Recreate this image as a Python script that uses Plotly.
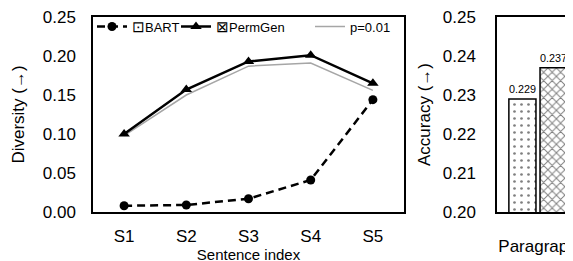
import plotly.graph_objects as go

# ---- data ----
sentences = ["S1", "S2", "S3", "S4", "S5"]
bart_div = [0.008, 0.009, 0.017, 0.041, 0.144]
permgen_div = [0.100, 0.157, 0.193, 0.201, 0.165]
p001_div = [0.098, 0.150, 0.187, 0.191, 0.156]

acc_cats = ["Paragraph", "Sentence"]
bart_acc = [0.229, None]
permgen_acc = [0.237, None]

W, H = 573, 261
OFF = 8  # page body margin offset
FONT = "Liberation Sans, Arial, sans-serif"


def px(page_x):
    return (page_x - OFF) / W


fig = go.Figure()

fig.add_trace(go.Bar(
    x=acc_cats, y=bart_acc, name="BART", showlegend=False,
    marker=dict(color="white", line=dict(color="black", width=1.5),
                pattern=dict(shape=".", fgcolor="black", size=7, solidity=0.12)),
    text=["0.229", ""], textposition="outside",
    textfont=dict(size=13, color="black"),
    xaxis="x2", yaxis="y2", cliponaxis=False))
fig.add_trace(go.Bar(
    x=acc_cats, y=permgen_acc, name="PermGen", showlegend=False,
    marker=dict(color="white", line=dict(color="black", width=1.5),
                pattern=dict(shape="x", fgcolor="black", size=6, solidity=0.3)),
    text=["0.237", ""], textposition="outside",
    textfont=dict(size=13, color="black"),
    xaxis="x2", yaxis="y2", cliponaxis=False))

fig.add_trace(go.Scatter(
    x=sentences, y=p001_div, name="p=0.01", mode="lines",
    line=dict(color="#a6a6a6", width=1.5),
    xaxis="x", yaxis="y", legend="legend3"))
fig.add_trace(go.Scatter(
    x=sentences, y=bart_div, name="<span style='font-size:15px'>⊡</span>BART",
    mode="lines+markers",
    line=dict(color="black", width=2.5, dash="8px,5px"),
    marker=dict(symbol="circle", size=9, color="black"),
    xaxis="x", yaxis="y", legend="legend"))
fig.add_trace(go.Scatter(
    x=sentences, y=permgen_div, name="<span style='font-size:15px'>⊠</span>PermGen",
    mode="lines+markers",
    line=dict(color="black", width=2.5),
    marker=dict(symbol="triangle-up", size=10, color="black"),
    xaxis="x", yaxis="y", legend="legend2"))

axis_common = dict(showgrid=False, zeroline=False, linecolor="black", linewidth=1.5,
                   automargin=False, ticklabeloverflow="allow",
                   tickfont=dict(size=17, color="black", family=FONT))

leg_common = dict(orientation="h", yanchor="top", y=1.028, xanchor="left",
                  font=dict(size=13, family=FONT), itemwidth=30,
                  bgcolor="rgba(0,0,0,0)")

top_page, bottom_page = 17, 212
fig.update_layout(
    width=W, height=H,
    margin=dict(l=0, r=0, t=top_page - OFF, b=H - (bottom_page - OFF)),
    paper_bgcolor="white", plot_bgcolor="white",
    font=dict(family=FONT, color="black"),
    barmode="group", bargap=0.24, bargroupgap=0.13,
    showlegend=True,
    legend=dict(x=px(92), **leg_common),
    legend2=dict(x=px(176), **leg_common),
    legend3=dict(x=px(310), **leg_common),
    xaxis=dict(domain=[px(93), px(404)], range=[-0.5, 4.5], showline=True, mirror=True,
               ticks="outside", ticklen=8, tickcolor="rgba(0,0,0,0)",
               title=dict(text="Sentence index", font=dict(size=15), standoff=4),
               **axis_common),
    yaxis=dict(domain=[0, 1], range=[0, 0.25], dtick=0.05, tickformat=".2f",
               showline=True, mirror=True, ticks="outside", ticklen=12,
               tickcolor="rgba(0,0,0,0)",
               title=dict(text="Diversity (→)", font=dict(size=17), standoff=14),
               **axis_common),
    xaxis2=dict(domain=[px(497), 1], range=[-0.5, -0.5 + (W + OFF - 497) / 82],
                showline=True, mirror=True, anchor="y2", ticks="outside", ticklen=18,
                tickcolor="rgba(0,0,0,0)", **axis_common),
    yaxis2=dict(domain=[0, 1], range=[0.20, 0.25], dtick=0.01, tickformat=".2f",
                anchor="x2", showline=True, mirror=False, ticks="outside", ticklen=16,
                tickcolor="rgba(0,0,0,0)",
                title=dict(text="Accuracy (→)", font=dict(size=17), standoff=8),
                **axis_common),
)

fig.write_html("out.html")
